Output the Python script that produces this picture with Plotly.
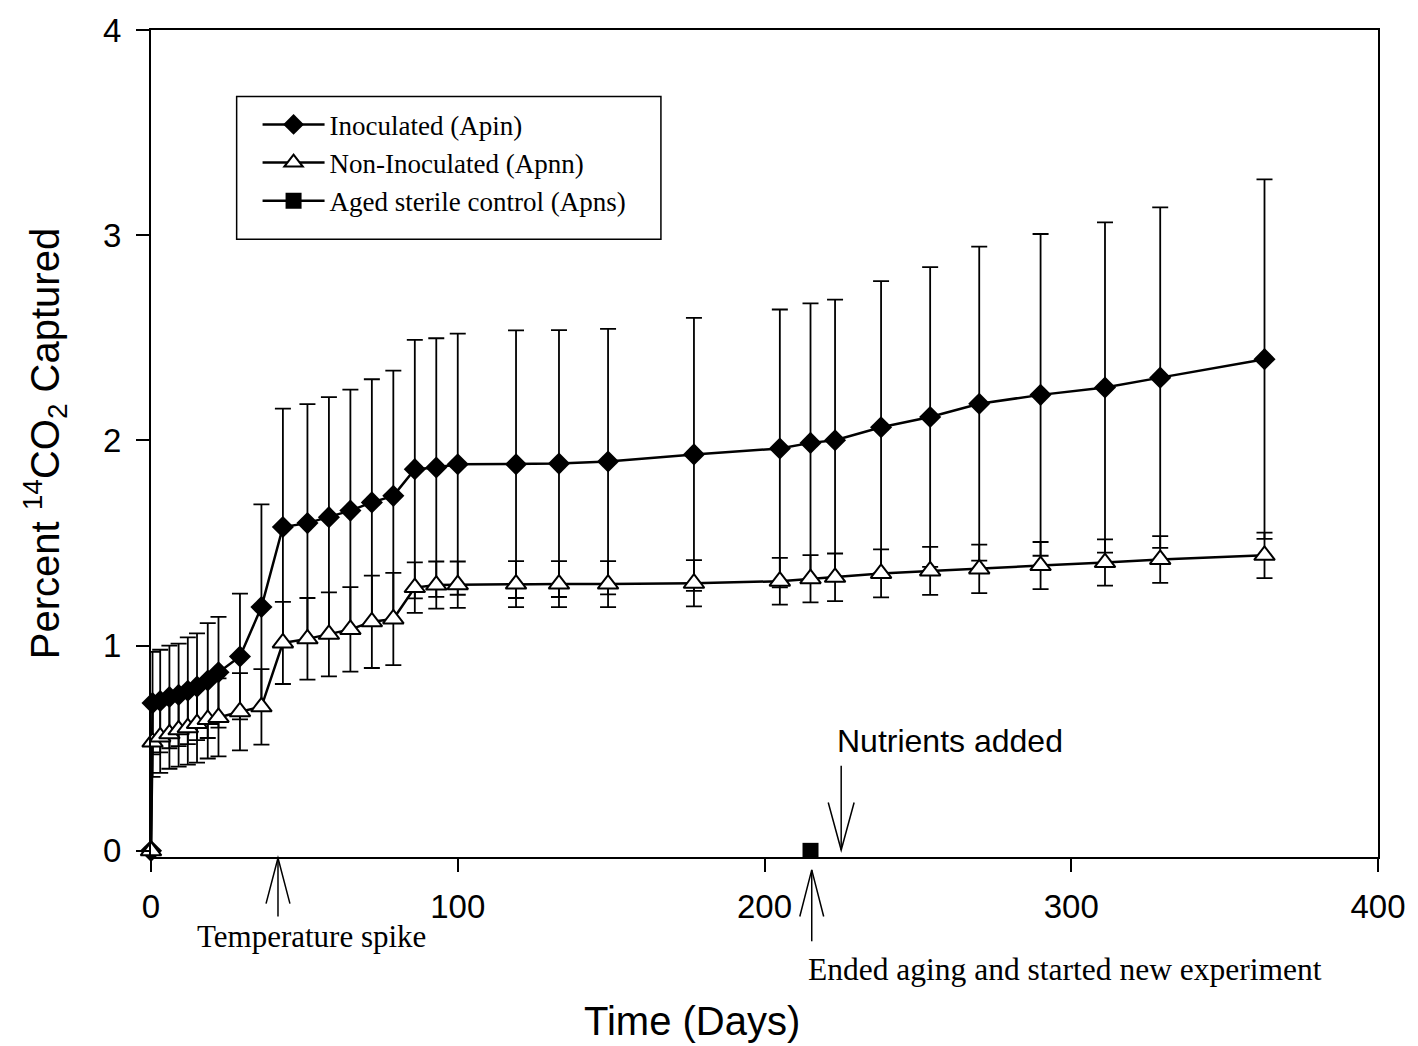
import plotly.graph_objects as go

# ---------------- data ----------------
days = [0, 0.5, 3, 6, 9, 12, 15, 18.5, 22, 29, 36, 43, 51, 58, 65, 72, 79, 86, 93,
        100, 119, 133, 149, 177, 205, 215, 223, 238, 254, 270, 290, 311, 329, 363]

inoculated = [0, 0.72, 0.73, 0.75, 0.76, 0.78, 0.80, 0.83, 0.87, 0.947, 1.188, 1.578,
              1.597, 1.626, 1.658, 1.698, 1.73, 1.86, 1.868, 1.884, 1.884, 1.887, 1.897,
              1.932, 1.961, 1.988, 2.001, 2.064, 2.114, 2.179, 2.222, 2.258, 2.306, 2.396]
inoculated_err = [None, 0.25, 0.25, 0.25, 0.25, 0.26, 0.26, 0.28, 0.27, 0.306, 0.50, 0.577,
                  0.58, 0.585, 0.59, 0.60, 0.61, 0.63, 0.63, 0.636, 0.652, 0.65, 0.647,
                  0.665, 0.677, 0.68, 0.685, 0.712, 0.73, 0.765, 0.784, 0.805, 0.83, 0.876]

non_inoculated = [0, 0.53, 0.555, 0.57, 0.59, 0.60, 0.62, 0.64, 0.65, 0.678, 0.702, 1.013,
                  1.033, 1.055, 1.079, 1.116, 1.13, 1.283, 1.295, 1.297, 1.30, 1.30, 1.30,
                  1.304, 1.314, 1.326, 1.333, 1.352, 1.364, 1.374, 1.39, 1.405, 1.42, 1.44]
non_inoculated_err = [None, 0.17, 0.175, 0.17, 0.18, 0.18, 0.19, 0.19, 0.19, 0.188, 0.184,
                      0.20, 0.199, 0.205, 0.206, 0.225, 0.225, 0.123, 0.115, 0.113, 0.112,
                      0.112, 0.112, 0.113, 0.114, 0.115, 0.116, 0.117, 0.117, 0.118, 0.115,
                      0.113, 0.114, 0.111]

sterile_days = [215]
sterile = [0]

x_ticks = [0, 100, 200, 300, 400]
y_ticks = [0, 1, 2, 3, 4]

# event markers (day positions)
temp_spike_day = 41.4
ended_aging_day = 215.4
nutrients_day = 225

# ---------------- layout geometry ----------------
W, H = 1418, 1046
L, R, T, B = 151, 35, 23, 189
PW = W - L - R
PH = H - T - B
XR = [0, 400]
YR = [-0.03, 4]
px_per_day = PW / (XR[1] - XR[0])


def yp(py):
    """pixel row -> paper y"""
    return (H - B - py) / PH


def xp(px):
    """pixel column -> paper x"""
    return (px - L) / PW


SANS = "Liberation Sans"
SERIF = "Liberation Serif"

fig = go.Figure()

fig.add_trace(go.Scatter(
    x=days, y=inoculated, name="Inoculated (Apin)", mode="lines+markers",
    line=dict(color="black", width=2.5),
    marker=dict(symbol="diamond", size=17, color="black"),
    error_y=dict(type="data", array=inoculated_err, visible=True,
                 color="black", thickness=1.8, width=8),
    cliponaxis=False,
))
fig.add_trace(go.Scatter(
    x=days, y=non_inoculated, name="Non-Inoculated (Apnn)", mode="lines+markers",
    line=dict(color="black", width=2.5),
    marker=dict(symbol="triangle-up", size=18, color="white",
                line=dict(color="black", width=2)),
    error_y=dict(type="data", array=non_inoculated_err, visible=True,
                 color="black", thickness=1.8, width=8),
    cliponaxis=False,
))
fig.add_trace(go.Scatter(
    x=sterile_days, y=sterile, name="Aged sterile control (Apns)", mode="lines+markers",
    line=dict(color="black", width=2.5),
    marker=dict(symbol="square", size=16, color="black"),
    cliponaxis=False,
))

axis_common = dict(
    showline=True, linecolor="black", linewidth=2, mirror=True,
    ticks="outside", ticklen=13, tickwidth=2, tickcolor="black",
    showgrid=False, zeroline=False,
    tickfont=dict(family=SANS, size=33, color="black"),
)

fig.update_layout(
    width=W, height=H,
    margin=dict(l=L, r=R, t=T, b=B, pad=0),
    paper_bgcolor="white", plot_bgcolor="white",
    xaxis=dict(range=XR, tickvals=x_ticks, ticklabelstandoff=6, **axis_common),
    yaxis=dict(range=YR, tickvals=y_ticks, ticklabelstandoff=8,
               title=dict(text="Percent <sup>14</sup>CO<sub>2</sub> Captured",
                          font=dict(family=SANS, size=40, color="black"), standoff=31),
               **axis_common),
    showlegend=True,
    legend=dict(x=xp(258), y=yp(94), xanchor="left", yanchor="top",
                bgcolor="rgba(0,0,0,0)", borderwidth=0,
                font=dict(family=SERIF, size=27, color="black"),
                itemwidth=62, traceorder="normal"),
)

shapes = []
# legend frame
shapes.append(dict(type="rect", xref="paper", yref="paper",
                   x0=xp(237), x1=xp(663), y0=yp(234), y1=yp(90),
                   line=dict(color="black", width=1.5), fillcolor="rgba(0,0,0,0)"))


def arrow(day, tip_py, tail_py, head_len=47, half_w=12):
    """open V-head arrow; x in data (days), y in paper"""
    d = 1 if tail_py > tip_py else -1  # +1: pointing up
    hw = half_w / px_per_day
    out = [dict(type="line", xref="x", yref="paper", x0=day, x1=day,
                y0=yp(tail_py), y1=yp(tip_py), line=dict(color="black", width=1.5))]
    base = tip_py + d * head_len
    path = (f"M {day - hw},{yp(base)} L {day},{yp(tip_py)} L {day + hw},{yp(base)}")
    out.append(dict(type="path", xref="x", yref="paper", path=path,
                    line=dict(color="black", width=1.5)))
    return out


shapes += arrow(temp_spike_day, 858, 917, 46, 12)
shapes += arrow(ended_aging_day, 870, 942, 47, 12)
shapes += arrow(nutrients_day, 850, 765, 48, 13)
fig.update_layout(shapes=shapes)

# x-axis title (placed left of centre as in the reference)
fig.add_annotation(x=xp(694), y=yp(1022), xref="paper", yref="paper", text="Time (Days)",
                   showarrow=False, font=dict(family=SANS, size=40, color="black"),
                   xanchor="center", yanchor="middle")

fig.add_annotation(x=52.4, y=yp(937), xref="x", yref="paper", text="Temperature spike",
                   showarrow=False, font=dict(family=SERIF, size=31, color="black"),
                   xanchor="center", yanchor="middle")
fig.add_annotation(x=297.9, y=yp(970), xref="x", yref="paper",
                   text="Ended aging and started new experiment",
                   showarrow=False, font=dict(family=SERIF, size=31.5, color="black"),
                   xanchor="center", yanchor="middle")
fig.add_annotation(x=260.5, y=yp(740), xref="x", yref="paper", text="Nutrients added",
                   showarrow=False, font=dict(family=SANS, size=32, color="black"),
                   xanchor="center", yanchor="middle")

fig.write_html("out.html")
